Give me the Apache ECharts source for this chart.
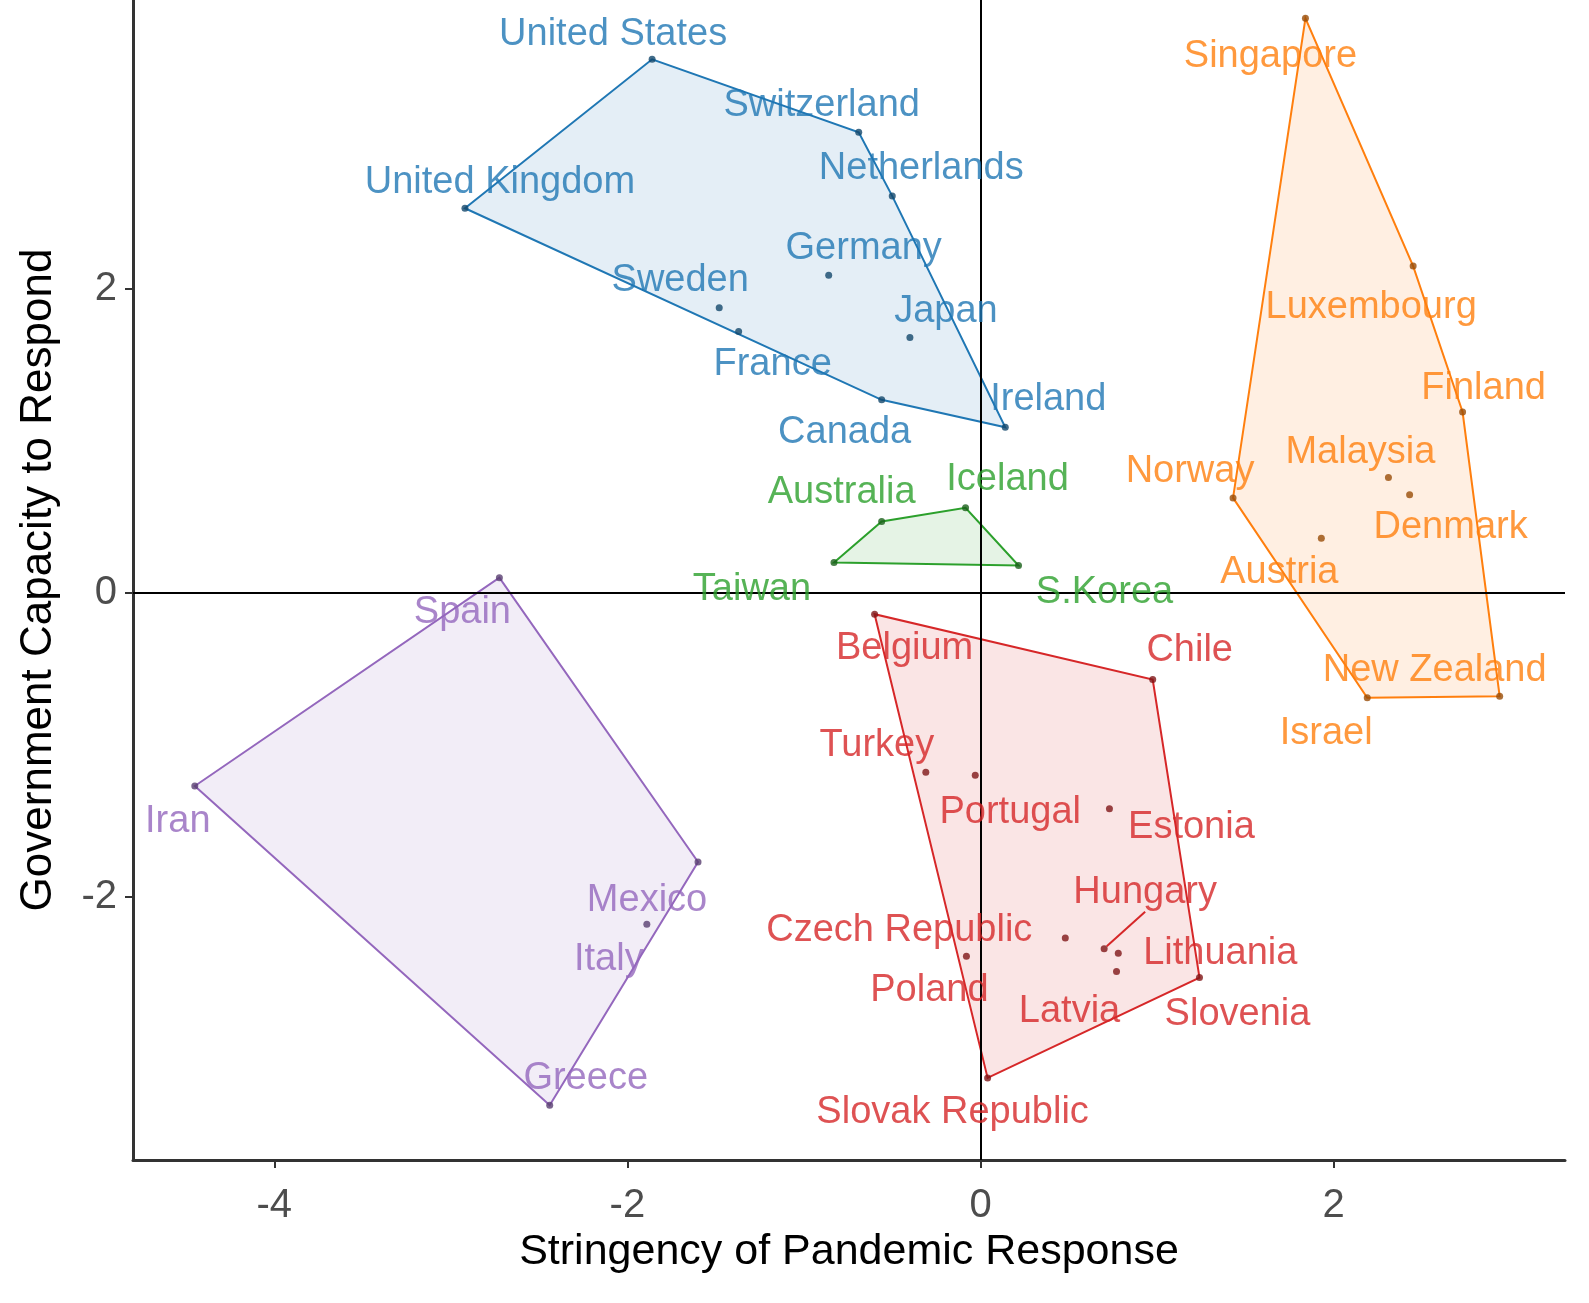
<!DOCTYPE html>
<html>
<head>
<meta charset="utf-8">
<script src="https://cdn.jsdelivr.net/npm/echarts@6/dist/echarts.min.js"></script>
<style>
html,body{margin:0;padding:0;background:#fff;}
#chart{width:1589px;height:1303px;}
</style>
</head>
<body>
<div id="chart"></div>
<script>
// ---------- DATA ----------
const blueNames = ['United States','Switzerland','Netherlands','United Kingdom','Germany','Sweden','France','Japan','Canada','Ireland'];
const blueX = [-1.86,-0.69,-0.50,-2.92,-0.86,-1.48,-1.37,-0.40,-0.56,0.14];
const blueY = [3.51,3.03,2.61,2.53,2.09,1.875,1.72,1.68,1.27,1.09];

const greenNames = ['Australia','Iceland','Taiwan','S.Korea'];
const greenX = [-0.56,-0.085,-0.83,0.215];
const greenY = [0.47,0.56,0.20,0.18];

const orangeNames = ['Singapore','Luxembourg','Finland','Malaysia','Denmark','Norway','Austria','New Zealand','Israel'];
const orangeX = [1.84,2.45,2.73,2.31,2.43,1.43,1.93,2.94,2.19];
const orangeY = [3.78,2.15,1.19,0.76,0.645,0.625,0.36,-0.68,-0.69];

const purpleNames = ['Spain','Iran','Mexico','Italy','Greece'];
const purpleX = [-2.725,-4.45,-1.60,-1.89,-2.44];
const purpleY = [0.10,-1.27,-1.77,-2.18,-3.37];

const redNames = ['Belgium','Chile','Turkey','Portugal','Estonia','Czech Republic','Hungary','Lithuania','Latvia','Poland','Slovenia','Slovak Republic'];
const redX = [-0.60,0.975,-0.31,-0.03,0.73,0.48,0.70,0.78,0.77,-0.08,1.24,0.04];
const redY = [-0.14,-0.57,-1.18,-1.20,-1.42,-2.27,-2.34,-2.37,-2.49,-2.39,-2.53,-3.19];

const xTicks = [-4,-2,0,2];
const yTicks = [-2,0,2];

const xTitle = 'Stringency of Pandemic Response';
const yTitle = 'Government Capacity to Respond';

// ---------- LAYOUT / STYLE (label offsets in pixels, like ggrepel placement) ----------
const labelOffsets = {
  'United States':[-39,-25],'Switzerland':[-37,-27],'Netherlands':[29,-28],'United Kingdom':[35,-26],
  'Germany':[35,-27],'Sweden':[-39,-27],'France':[34,33],'Japan':[36,-26],'Canada':[-37,33],'Ireland':[43,-28],
  'Australia':[-40,-29],'Iceland':[42,-28],'Taiwan':[-82,27],'S.Korea':[86,27],
  'Singapore':[-35,38],'Luxembourg':[-42,41],'Finland':[21,-23],'Malaysia':[-28,-25],'Denmark':[41,33],
  'Norway':[-43,-26],'Austria':[-42,34],'New Zealand':[-65,-26],'Israel':[-41,36],
  'Spain':[-37,35],'Iran':[-17,36],'Mexico':[-51,38],'Italy':[-38,35],'Greece':[36,-27],
  'Belgium':[30,34],'Chile':[37,-29],'Turkey':[-49,-27],'Portugal':[35,37],'Estonia':[82,19],
  'Czech Republic':[-166,-8],'Hungary':[41,-56],'Lithuania':[102,0],'Latvia':[-47,40],
  'Poland':[-37,34],'Slovenia':[38,37],'Slovak Republic':[-35,35]
};
const leaderLines = ['Hungary'];
const FONT = '"Liberation Sans", Arial, sans-serif';

function rgba(hex, a){
  const n = parseInt(hex.slice(1),16);
  return 'rgba('+((n>>16)&255)+','+((n>>8)&255)+','+(n&255)+','+a+')';
}
function darken(hex, f){
  const n = parseInt(hex.slice(1),16);
  const r = Math.round(((n>>16)&255)*f), g = Math.round(((n>>8)&255)*f), b = Math.round((n&255)*f);
  return 'rgb('+r+','+g+','+b+')';
}
function convexHull(points){
  const p = points.slice().sort((a,b)=>a[0]-b[0]||a[1]-b[1]);
  const cross=(o,a,b)=>(a[0]-o[0])*(b[1]-o[1])-(a[1]-o[1])*(b[0]-o[0]);
  const lower=[]; for(const q of p){while(lower.length>=2&&cross(lower[lower.length-2],lower[lower.length-1],q)<=0)lower.pop();lower.push(q);}
  const upper=[]; for(let i=p.length-1;i>=0;i--){const q=p[i];while(upper.length>=2&&cross(upper[upper.length-2],upper[upper.length-1],q)<=0)upper.pop();upper.push(q);}
  upper.pop(); lower.pop(); return lower.concat(upper);
}

const groups = [
  {names:blueNames, xs:blueX, ys:blueY, color:'#1f77b4'},
  {names:greenNames, xs:greenX, ys:greenY, color:'#2ca02c'},
  {names:orangeNames, xs:orangeX, ys:orangeY, color:'#ff7f0e'},
  {names:purpleNames, xs:purpleX, ys:purpleY, color:'#9467bd'},
  {names:redNames, xs:redX, ys:redY, color:'#d62728'}
];

const series = [];
groups.forEach(g=>{
  const hull = convexHull(g.xs.map((x,i)=>[x,g.ys[i]]));
  series.push({
    type:'custom', silent:true, clip:true, z:1,
    data: hull, encode:{x:0,y:1},
    renderItem:function(params, api){
      if(params.dataIndex!==0) return null;
      const pts = hull.map(p=>api.coord(p));
      return {type:'polygon', shape:{points:pts},
        style:{fill:rgba(g.color,0.12), stroke:g.color, lineWidth:2}};
    }
  });
});
groups.forEach(g=>{
  series.push({
    type:'scatter', z:5, symbol:'circle', symbolSize:7,
    itemStyle:{color:darken(g.color,0.6)},
    label:{show:true, position:'inside', formatter:'{b}', color:g.color,
      fontSize:38, fontFamily:FONT, align:'center', verticalAlign:'middle'},
    labelLayout:function(params){
      const nm = g.names[params.dataIndex];
      const o = labelOffsets[nm] || [0,0];
      return {dx:o[0], dy:o[1]};
    },
    data: g.names.map((n,i)=>{
      const d = {name:n, value:[g.xs[i], g.ys[i]]};
      if(leaderLines.indexOf(n)>=0){ d.labelLine = {show:true, lineStyle:{color:g.color, width:2}}; }
      return d;
    })
  });
});
// zero reference lines
series.push({
  type:'scatter', data:[], z:3, silent:true,
  markLine:{silent:true, symbol:['none','none'], label:{show:false}, animation:false,
    lineStyle:{color:'#000', width:2, type:'solid'},
    data:[{xAxis:0},{yAxis:0}]}
});

const chart = echarts.init(document.getElementById('chart'));
chart.setOption({
  animation:false,
  backgroundColor:'#fff',
  grid:{left:133, right:24, top:0, bottom:143, containLabel:false},
  xAxis:{
    type:'value', min:-4.80, max:3.31,
    name:xTitle, nameLocation:'middle', nameGap:70,
    nameTextStyle:{fontSize:43, color:'#000', fontFamily:FONT},
    splitLine:{show:false},
    axisLine:{show:true, onZero:false, lineStyle:{color:'#333', width:3}},
    axisTick:{show:true, customValues:xTicks, length:8, lineStyle:{color:'#333', width:2}},
    axisLabel:{show:true, customValues:xTicks, fontSize:40, color:'#4d4d4d', fontFamily:FONT, margin:26}
  },
  yAxis:{
    type:'value', min:-3.73, max:3.90,
    name:yTitle, nameLocation:'middle', nameGap:72, nameRotate:90,
    nameTextStyle:{fontSize:44, color:'#000', fontFamily:FONT},
    splitLine:{show:false},
    axisLine:{show:true, onZero:false, lineStyle:{color:'#333', width:3}},
    axisTick:{show:true, customValues:yTicks, length:8, lineStyle:{color:'#333', width:2}},
    axisLabel:{show:true, customValues:yTicks, fontSize:40, color:'#4d4d4d', fontFamily:FONT, margin:16}
  },
  series:series
});
</script>
</body>
</html>
